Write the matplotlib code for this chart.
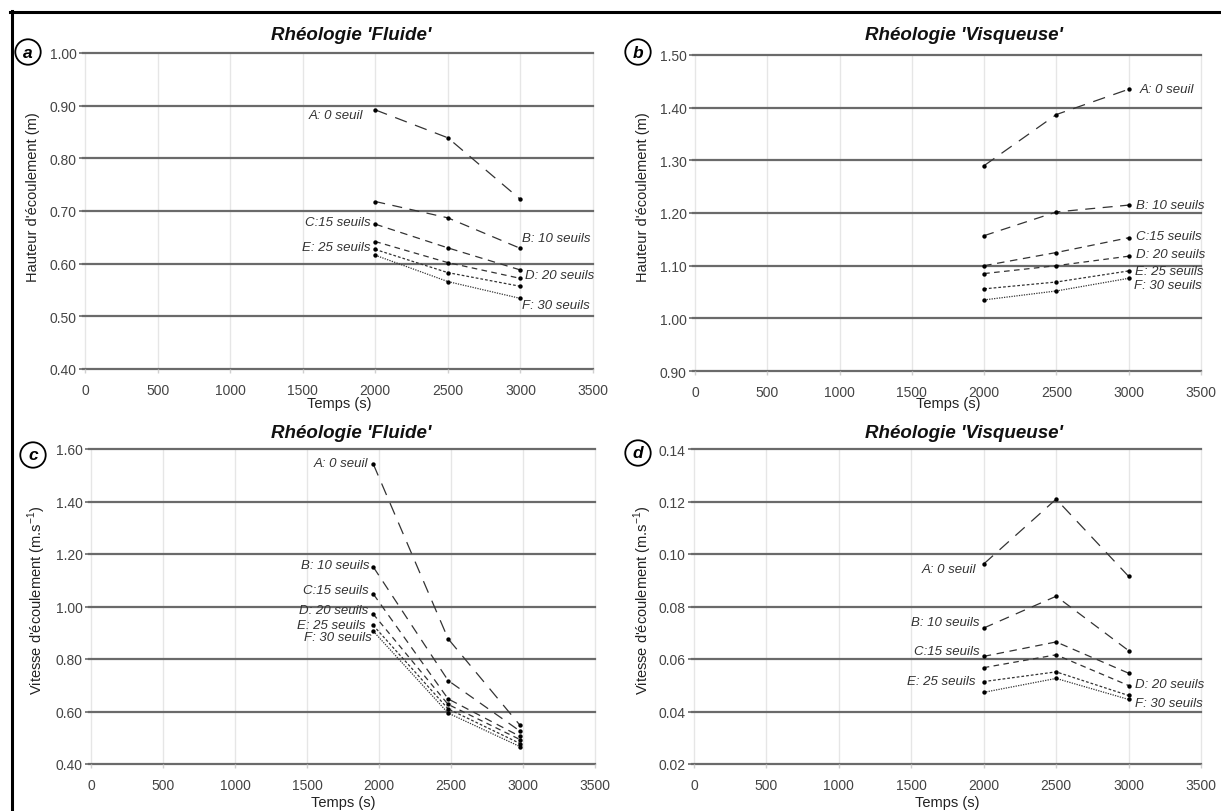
import matplotlib
matplotlib.use('Agg')
import matplotlib.pyplot as plt

plt.rcParams['font.family'] = ['Liberation Sans', 'DejaVu Sans']
plt.rcParams['mathtext.fontset'] = 'custom'
plt.rcParams['mathtext.rm'] = 'Liberation Sans'

# series labels and times
series = ['A: 0 seuil', 'B: 10 seuils', 'C:15 seuils', 'D: 20 seuils', 'E: 25 seuils', 'F: 30 seuils']
temps = [2000, 2500, 3000]
temps_c = [1960, 2480, 2980]

# (a) hauteur, rheologie fluide
haut_fluide = [
    [0.892, 0.839, 0.722],
    [0.718, 0.687, 0.629],
    [0.675, 0.630, 0.588],
    [0.642, 0.602, 0.572],
    [0.627, 0.583, 0.557],
    [0.616, 0.566, 0.534],
]
# (b) hauteur, rheologie visqueuse
haut_visq = [
    [1.290, 1.387, 1.435],
    [1.157, 1.202, 1.215],
    [1.100, 1.125, 1.153],
    [1.085, 1.100, 1.118],
    [1.056, 1.069, 1.090],
    [1.035, 1.052, 1.076],
]
# (c) vitesse, rheologie fluide
vit_fluide = [
    [1.543, 0.877, 0.547],
    [1.151, 0.718, 0.525],
    [1.048, 0.648, 0.505],
    [0.971, 0.627, 0.493],
    [0.928, 0.610, 0.478],
    [0.906, 0.594, 0.466],
]
# (d) vitesse, rheologie visqueuse
vit_visq = [
    [0.0962, 0.1209, 0.0915],
    [0.0718, 0.0839, 0.0632],
    [0.0610, 0.0665, 0.0546],
    [0.0567, 0.0616, 0.0499],
    [0.0514, 0.0551, 0.0461],
    [0.0473, 0.0526, 0.0446],
]

W, H = 1221, 812
XMIN, XMAX = -15, 3500
LINE_COL = '#333333'
GRID_H = '#6a6a6a'
GRID_V = '#e6e6e6'
dashes = [(0, (10, 7)), (0, (8, 6)), (0, (6, 4.5)), (0, (4.5, 3.5)), (0, (2.2, 1.6)), (0, (1, 1))]

fig = plt.figure(figsize=(W / 100, H / 100), dpi=100)


def add_panel(x0, x1, ytop, ybot, ylim, yticks):
    sx = (x1 - x0) / 3500
    left = x0 + XMIN * sx
    right = x0 + XMAX * sx
    ax = fig.add_axes([left / W, 1 - ybot / H, (right - left) / W, (ybot - ytop) / H])
    ax.set_xlim(XMIN, XMAX)
    ax.set_ylim(ylim)
    for s in ax.spines.values():
        s.set_visible(False)
    ax.set_xticks(range(0, 3501, 500))
    ax.set_yticks(yticks)
    ax.set_yticklabels(['{:.2f}'.format(t) for t in yticks])
    for t in range(0, 3501, 500):
        ax.axvline(t, color=GRID_V, lw=1.0, zorder=0, clip_on=False)
    for t in yticks:
        ax.axhline(t, color=GRID_H, lw=1.6, zorder=1, clip_on=False)
    ax.tick_params(axis='y', length=3, width=1.2, color=GRID_H, pad=1.5,
                   labelsize=10, labelcolor='#444444')
    ax.tick_params(axis='x', length=3, width=1.0, color='#d0d0d0', pad=7,
                   labelsize=10, labelcolor='#444444')
    return ax


def draw(ax, x, data, labels):
    for i, ys in enumerate(data):
        ax.plot(x, ys, color=LINE_COL, lw=0.9, ls=dashes[i], zorder=3)
        ax.scatter(x, ys, s=10, color='black', zorder=4, linewidths=0)
    for i, idx, dx, dy in labels:
        ha = 'right' if dx < 0 else 'left'
        ax.annotate(series[i], (x[idx], data[i][idx]), xytext=(dx, -dy),
                    textcoords='offset pixels', ha=ha, va='center',
                    fontsize=9.5, style='italic', color='#333333', zorder=5)


def deco(letter, cx, cy, title, tx, ty, ylab, yx, yy, xx, xy):
    fig.text(cx / W, 1 - cy / H, letter, fontsize=12.5, fontweight='bold', style='italic',
             ha='center', va='center',
             bbox=dict(boxstyle='circle,pad=0.3', fc='white', ec='black', lw=1.3))
    fig.text(tx / W, 1 - ty / H, title, fontsize=13.5, fontweight='bold', style='italic',
             ha='center', va='center', color='#111111')
    fig.text(yx / W, 1 - yy / H, ylab, fontsize=10.5, rotation=90,
             ha='center', va='center', color='#222222')
    fig.text(xx / W, 1 - xy / H, 'Temps (s)', fontsize=10.5,
             ha='center', va='center', color='#222222')


hlab = "Hauteur d'écoulement (m)"
vlab = r"Vitesse d'écoulement (m.s$^{\mathregular{-1}}$)"

ax_a = add_panel(85, 593, 54, 370, (0.40, 1.00), [0.4, 0.5, 0.6, 0.7, 0.8, 0.9, 1.0])
draw(ax_a, temps, haut_fluide,
     [(0, 0, -12, 5), (2, 0, -5, -2), (4, 0, -5, -2), (1, 2, 2, -10), (3, 2, 5, -3), (5, 2, 2, 7)])
deco('a', 28, 53, "Rhéologie 'Fluide'", 351, 35, hlab, 33, 197, 339, 404)

ax_b = add_panel(695, 1201, 56, 372, (0.90, 1.50), [0.9, 1.0, 1.1, 1.2, 1.3, 1.4, 1.5])
draw(ax_b, temps, haut_visq,
     [(0, 2, 11, 0), (1, 2, 7, 0), (2, 2, 7, -2), (3, 2, 7, -2), (4, 2, 6, 0), (5, 2, 5, 7)])
deco('b', 638, 53, "Rhéologie 'Visqueuse'", 964, 35, hlab, 643, 197, 948, 404)

ax_c = add_panel(91, 595, 450, 765, (0.40, 1.60), [0.4, 0.6, 0.8, 1.0, 1.2, 1.4, 1.6])
draw(ax_c, temps_c, vit_fluide,
     [(0, 0, -5, -1), (1, 0, -4, -2), (2, 0, -5, -4), (3, 0, -5, -4), (4, 0, -8, 0), (5, 0, -1, 6)])
deco('c', 33, 456, "Rhéologie 'Fluide'", 351, 434, vlab, 37, 600, 343, 803)

ax_d = add_panel(694, 1201, 450, 765, (0.02, 0.14), [0.02, 0.04, 0.06, 0.08, 0.10, 0.12, 0.14])
draw(ax_d, temps, vit_visq,
     [(0, 0, -8, 5), (1, 0, -4, -6), (2, 0, -4, -5), (4, 0, -8, -1), (3, 2, 6, -2), (5, 2, 6, 4)])
deco('d', 638, 454, "Rhéologie 'Visqueuse'", 964, 434, vlab, 643, 600, 947, 803)

# cadre (haut et gauche)
fig.add_artist(plt.Line2D([10 / W, 1], [1 - 12.5 / H, 1 - 12.5 / H], color='black', lw=2.2))
fig.add_artist(plt.Line2D([11.5 / W, 11.5 / W], [0, 1 - 12 / H], color='black', lw=2.2))

fig.savefig('out.png', dpi=100)
